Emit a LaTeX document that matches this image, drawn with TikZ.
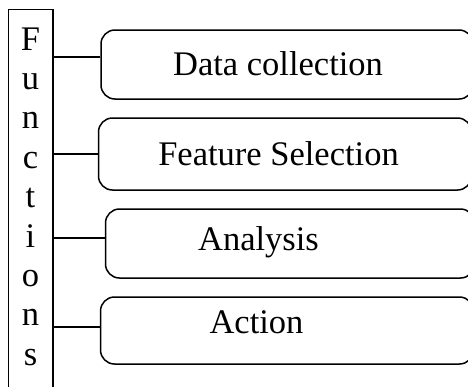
\documentclass[tikz,border=0pt]{standalone}
\usepackage{fontspec}
\setmainfont{Liberation Serif}
\usetikzlibrary{positioning}
\tikzset{funbox/.style={draw, line width=1.5pt, rounded corners=14pt, inner sep=0pt},
	funtext/.style={anchor=base, inner sep=0pt, font=\fontsize{34.5}{40}\selectfont},
	funlink/.style={line width=1.5pt}}

\begin{document}
\begin{tikzpicture}[x=1pt,y=-1pt]
				\useasboundingbox (0,0) rectangle (468,386);
				% left column
				\draw[line width=1.5pt] (8.5,9.5) rectangle (53,400);
				\foreach \l [count=\i] in {F,u,n,c,t,i,o,n,s}
					\node[funtext] (f\i) at (30.5,{50+39.4*(\i-1)}) {\l};
				\coordinate (bar) at (53,0);
				% boxes
				\node[funbox, minimum width=372pt, minimum height=69pt] (b1) at (287,64.5) {};
				\node[funbox, minimum width=373pt, minimum height=72pt] (b2) at (285,154) {};
				\node[funbox, minimum width=369pt, minimum height=69pt] (b3) at (290,243.5) {};
				\node[funbox, minimum width=373pt, minimum height=67pt] (b4) at (287,330.5) {};
				% labels
				\node[funtext] (t1) at (278,75) {Data collection};
				\node[funtext] (t2) at (278.5,165) {Feature Selection};
				\node[funtext] (t3) at (258.5,250) {Analysis};
				\node[funtext] (t4) at (256.5,333) {Action};
				% links
				\draw[funlink] (bar |- b1.west) ++(0,-7.5) -- ([yshift=7.5pt]b1.west);
				\draw[funlink] (bar |- b2.west) -- (b2.west);
				\draw[funlink] (bar |- b3.west) ++(0,-5.5) -- ([yshift=5.5pt]b3.west);
				\draw[funlink] (bar |- b4.west) ++(0,-3.5) -- ([yshift=3.5pt]b4.west);
\end{tikzpicture}
\end{document}
